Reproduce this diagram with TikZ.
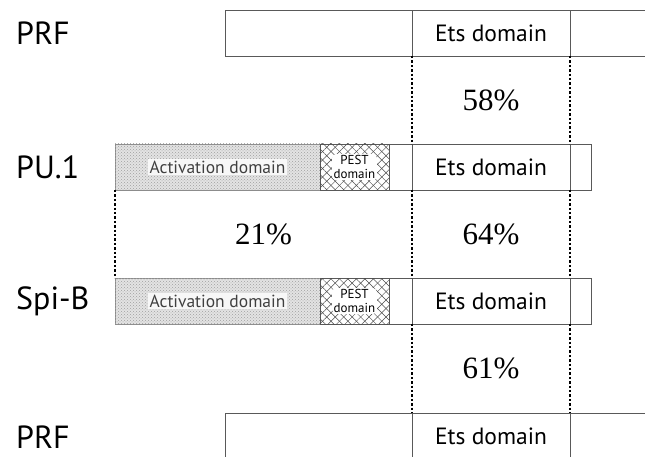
\documentclass[tikz,border=0pt]{standalone}
\usepackage{fontspec}
\setmainfont{Liberation Serif}
\newfontfamily\lblfont{PT Sans}
\usetikzlibrary{patterns,patterns.meta,calc}
\begin{document}
\begin{tikzpicture}[x=1pt,y=-1pt,
  cell/.style={draw=black!65, line width=0.6pt, minimum height=46pt, inner sep=0pt, outer sep=0pt, anchor=north west},
  ets/.style={cell, minimum width=158pt, font=\lblfont\fontsize{23.5}{26}\selectfont},
  actcell/.style={cell, draw=black!45, fill=gray!22, minimum width=205pt,
     postaction={pattern=crosshatch dots, pattern color=gray!75}},
  pestcell/.style={cell, fill=white, minimum width=69pt,
     postaction={pattern={Lines[angle=45,distance=6pt,line width=0.5pt]}, pattern color=black!70},
     postaction={pattern={Lines[angle=-45,distance=6pt,line width=0.5pt]}, pattern color=black!70}},
  acttext/.style={fill=gray!6, inner sep=1.5pt, font=\lblfont\fontsize{17.5}{19}\selectfont, text=black!75},
  pesttext/.style={fill=white, rounded corners=4pt, inner sep=1.5pt, align=center, font=\lblfont\fontsize{13}{13.5}\selectfont},
  lab/.style={anchor=west, inner sep=0pt, font=\lblfont\fontsize{32}{34}\selectfont},
  pct/.style={font=\fontsize{31}{34}\selectfont},
  dotline/.style={black, line width=2.8pt, dash pattern=on 2.4pt off 2pt}]
\useasboundingbox (0,0) rectangle (645,457);
\clip (0,0) rectangle (645,457);

% Row 1: PRF
\node[cell, minimum width=187pt] (prfAl) at (225,10) {};
\node[ets] (prfAe) at (412,10) {Ets domain};
\node[cell, minimum width=90pt] (prfAr) at (570,10) {};

% Row 2: PU.1
\node[actcell] (pact) at (115,144) {};
\node[pestcell] (ppest) at (320,144) {};
\node[cell, minimum width=23pt] (pgap) at (389,144) {};
\node[ets] (pue) at (412,144) {Ets domain};
\node[cell, minimum width=21pt] (pur) at (570,144) {};
\node[acttext] (pacttxt) at (pact.center) {Activation domain};
\node[pesttext] (ppesttxt) at (ppest.center) {PEST\\domain};

% Row 3: Spi-B
\node[actcell] (sact) at (115,278) {};
\node[pestcell] (spest) at (320,278) {};
\node[cell, minimum width=23pt] (sgap) at (389,278) {};
\node[ets] (se) at (412,278) {Ets domain};
\node[cell, minimum width=21pt] (sr) at (570,278) {};
\node[acttext] (sacttxt) at (sact.center) {Activation domain};
\node[pesttext] (spesttxt) at (spest.center) {PEST\\domain};

% Row 4: PRF
\node[cell, minimum width=187pt] (prfBl) at (225,413) {};
\node[ets] (prfBe) at (412,413) {Ets domain};
\node[cell, minimum width=90pt] (prfBr) at (570,413) {};

% Labels
\node[lab] (lprfA) at (16,33) {PRF};
\node[lab] (lpu) at (16,167) {PU.1};
\node[lab] (lspi) at (16,301) {Spi-B};
\node[lab] (lprfB) at (16,437) {PRF};

% Dotted connectors
\draw[dotline] (prfAe.south west) -- (pue.north west);
\draw[dotline] (prfAe.south east) -- (pue.north east);
\draw[dotline] (pact.south west) -- (sact.north west);
\draw[dotline] (pue.south west) -- (se.north west);
\draw[dotline] (pue.south east) -- (se.north east);
\draw[dotline] (se.south west) -- (prfBe.north west);
\draw[dotline] (se.south east) -- (prfBe.north east);

% Percentages
\node[pct] (p58) at ($(prfAe.south)!0.5!(pue.north)$) {58\%};
\node[pct] (p21) at ($(pact.south west)!0.5!(se.north west)$) {21\%};
\node[pct] (p64) at ($(pue.south)!0.5!(se.north)$) {64\%};
\node[pct] (p61) at ($(se.south)!0.5!(prfBe.north)$) {61\%};
\end{tikzpicture}
\end{document}
